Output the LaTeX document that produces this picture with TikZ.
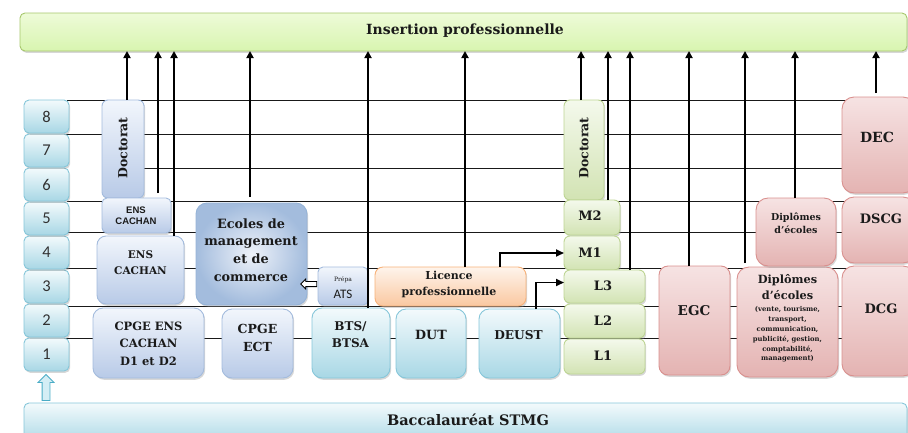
\documentclass[tikz,border=0pt]{standalone}
\usepackage{fontspec}
\setmainfont{DejaVu Serif}
\newfontfamily\calfont{Carlito}
\newfontfamily\arfont{Liberation Sans}
\usetikzlibrary{shadows,shapes.arrows,arrows.meta}
\definecolor{txtc}{HTML}{1A1A1A}
\definecolor{cyT}{HTML}{F3FAFC}\definecolor{cyD}{HTML}{A8D7E5}\definecolor{cyB}{HTML}{86C6D9}
\definecolor{blT}{HTML}{F2F6FC}\definecolor{blD}{HTML}{B8CAE7}\definecolor{blB}{HTML}{A3BBDD}
\definecolor{ecI}{HTML}{EEF2F9}\definecolor{ecO}{HTML}{A3BCDD}\definecolor{ecB}{HTML}{95B3D7}
\definecolor{orT}{HTML}{FEF4EC}\definecolor{orD}{HTML}{FAC8A0}\definecolor{orB}{HTML}{F7B27A}
\definecolor{grT}{HTML}{F4F9EC}\definecolor{grD}{HTML}{D2E3B3}\definecolor{grB}{HTML}{BED594}
\definecolor{pkT}{HTML}{F6E3E3}\definecolor{pkD}{HTML}{E4B3B2}\definecolor{pkB}{HTML}{D9908E}
\definecolor{tbT}{HTML}{EEFBD8}\definecolor{tbD}{HTML}{D8F5B0}\definecolor{tbB}{HTML}{A6C76C}
\definecolor{arF}{HTML}{D4EEF5}\definecolor{arB}{HTML}{4BACC6}
\newcommand\fsz[2]{\fontsize{#1}{#2}\selectfont}
\newcommand\bx[6]{\node[#1,minimum width={#4-#2},minimum height={#5-#3}] (#6) at ({(#2+#4)/2},{(#3+#5)/2}) {};}
\tikzset{
  boxbase/.style={draw,rounded corners=6pt,inner sep=0pt,outer sep=0pt,line width=0.9pt,
    drop shadow={shadow xshift=1.2pt,shadow yshift=-1.8pt,opacity=0.35,fill=black!45}},
  cybox/.style={boxbase,draw=cyB,top color=cyT,bottom color=cyD},
  blbox/.style={boxbase,draw=blB,top color=blT,bottom color=blD},
  ecbox/.style={boxbase,rounded corners=11pt,draw=ecB,inner color=ecI,outer color=ecO},
  orbox/.style={boxbase,draw=orB,top color=orT,bottom color=orD},
  grbox/.style={boxbase,draw=grB,top color=grT,bottom color=grD},
  pkbox/.style={boxbase,rounded corners=9pt,draw=pkB,top color=pkT,bottom color=pkD},
  tbbox/.style={boxbase,rounded corners=5pt,draw=tbB,top color=tbT,bottom color=tbD},
  txt/.style={text=txtc,align=center,inner sep=0pt,font=\bfseries},
  numtxt/.style={text=txtc!90,inner sep=0pt,font=\calfont\fsz{16.5}{18}},
  gridline/.style={line width=1pt,black!90},
  uparr/.style={line width=2pt,-{Triangle[width=7pt,length=7pt]}},
  sidearr/.style={line width=1.8pt,-{Triangle[width=7pt,length=8pt]}}
}
\begin{document}
\begin{tikzpicture}[x=1pt,y=-1pt]
\useasboundingbox (0,0) rectangle (908,432);
\clip (0,0) rectangle (908,432);
% grid lines
\draw[gridline] (67,100) -- (907,100);
\draw[gridline] (55,134) -- (907,134);
\draw[gridline] (144,168) -- (907,168);
\draw[gridline] (67,201) -- (907,201);
\draw[gridline] (67,232) -- (907,232);
\draw[gridline] (63,268) -- (907,268);
\draw[gridline] (67,306) -- (907,306);
\draw[gridline] (63,338) -- (907,338);
% bars
\bx{tbbox}{20}{13}{907}{51}{top}
\node[txt,font=\bfseries\fsz{14}{17}] (toptxt) at (465,31) {Insertion professionnelle};
\bx{cybox,rounded corners=5pt}{24}{403}{907}{445}{bac}
\node[txt,font=\bfseries\fsz{14.5}{17}] (bactxt) at (468,420) {Baccalauréat STMG};
% level boxes
\foreach \n in {1,...,8}{
  \pgfmathsetmacro\ya{100+34*(8-\n)}
  \pgfmathsetmacro\yb{\ya+33}
  \bx{cybox,rounded corners=5pt}{24}{\ya}{69}{\yb}{lv\n}
  \node[numtxt] (lvt\n) at (lv\n.center) {\n};
}
\node[single arrow,draw=arB,fill=arF,line width=0.8pt,inner sep=3.5pt,single arrow head extend=4pt,minimum height=26pt,shape border rotate=90] (bacarr) at (46,389.5) {};
% blue column
\bx{blbox}{102}{100}{144}{198}{docA}
\node[txt,rotate=90,font=\bfseries\fsz{12.5}{15}] (docAt) at (123,148) {Doctorat};
\bx{blbox,rounded corners=5pt}{102}{198}{171}{233}{ensS}
\node[txt,font=\arfont\bfseries\fsz{9.5}{11}] (ensSt) at (136,216) {ENS\\CACHAN};
\bx{blbox,rounded corners=9pt}{97}{236}{184}{304}{ensB}
\node[txt,font=\bfseries\fsz{10.5}{16}] (ensBt) at (140.5,263) {ENS\\CACHAN};
\bx{ecbox}{196}{203}{307}{305}{ecol}
\node[txt,font=\bfseries\fsz{12.8}{17.7}] (ecolt) at (251,250) {Ecoles de\\management\\et de\\commerce};
\bx{blbox,rounded corners=5pt}{318}{267}{368}{305}{ats}
\node[txt,font=\fsz{6}{7}] (atsp) at (343,279.5) {Prépa};
\node[txt,font=\calfont\fsz{13}{15}] (atst) at (343,294) {ATS};
\node[single arrow,draw=black,fill=white,line width=0.8pt,inner sep=2.2pt,single arrow head extend=2.5pt,minimum height=16pt,shape border rotate=180] (atsarr) at (310,284) {};
\bx{orbox,rounded corners=8pt}{375}{267}{526}{306}{lic}
\node[txt,font=\bfseries\fsz{11}{16}] (lict) at (449,284) {Licence\\professionnelle};
\bx{blbox,rounded corners=10pt}{93}{308}{204}{378}{cpA}
\node[txt,font=\bfseries\fsz{11.5}{17.5}] (cpAt) at (148.5,343.5) {CPGE ENS\\CACHAN\\D1 et D2};
\bx{blbox,rounded corners=10pt}{222}{309}{293}{378}{cpB}
\node[txt,font=\bfseries\fsz{12.5}{18}] (cpBt) at (257.5,338) {CPGE\\ECT};
\bx{cybox,rounded corners=10pt}{312}{308}{390}{378}{bts}
\node[txt,font=\bfseries\fsz{12}{17.5}] (btst) at (350.5,334.5) {BTS/\\BTSA};
\bx{cybox,rounded corners=10pt}{396}{309}{466}{378}{dut}
\node[txt,font=\bfseries\fsz{12.7}{15}] (dutt) at (431,335) {DUT};
\bx{cybox,rounded corners=10pt}{479}{309}{560}{378}{deust}
\node[txt,font=\bfseries\fsz{12.2}{15}] (deustt) at (518.5,335) {DEUST};
% green column
\bx{grbox}{564}{100}{604}{200}{docB}
\node[txt,rotate=90,font=\bfseries\fsz{12.5}{15}] (docBt) at (584,148) {Doctorat};
\bx{grbox}{564}{200}{620}{235}{m2}
\node[txt,font=\bfseries\fsz{13}{15}] (m2t) at (590,216) {M2};
\bx{grbox}{564}{236}{620}{270}{m1}
\node[txt,font=\bfseries\fsz{13}{15}] (m1t) at (590,252.5) {M1};
\bx{grbox}{564}{270}{645}{303}{l3}
\node[txt,font=\bfseries\fsz{13}{15}] (l3t) at (603,286) {L3};
\bx{grbox}{564}{304}{645}{338}{l2}
\node[txt,font=\bfseries\fsz{13}{15}] (l2t) at (603,321) {L2};
\bx{grbox}{564}{339}{645}{374}{l1}
\node[txt,font=\bfseries\fsz{13}{15}] (l1t) at (603,356) {L1};
% pink column
\bx{pkbox}{659}{266}{730}{375}{egc}
\node[txt,font=\bfseries\fsz{13.5}{15}] (egct) at (694,311) {EGC};
\bx{pkbox,rounded corners=12pt}{737}{267}{838}{377}{dipB}
\node[txt,font=\bfseries\fsz{11.3}{16}] (dipBt) at (787.5,287) {Diplômes\\d’écoles};
\node[txt,font=\bfseries\fsz{6.8}{9.8}] (dipBs) at (787.5,334.5) {(vente, tourisme,\\transport,\\communication,\\publicité, gestion,\\comptabilité,\\management)};
\bx{pkbox,rounded corners=12pt}{756}{198}{836}{266}{dipS}
\node[txt,font=\bfseries\fsz{9.5}{13.5}] (dipSt) at (796,223.5) {Diplômes\\d’écoles};
\bx{pkbox,rounded corners=12pt}{842}{97}{915}{193}{dec}
\node[txt,font=\bfseries\fsz{14}{16}] (dect) at (877,137) {DEC};
\bx{pkbox,rounded corners=12pt}{842}{197}{915}{263}{dscg}
\node[txt,font=\bfseries\fsz{13}{16}] (dscgt) at (881,219) {DSCG};
\bx{pkbox,rounded corners=12pt}{842}{266}{915}{376}{dcg}
\node[txt,font=\bfseries\fsz{13}{16}] (dcgt) at (881,309) {DCG};
% arrows to the top bar
\draw[uparr] (docA.north -| 127,0) -- (top.south -| 127,0);
\draw[uparr,shorten <=5pt] (ensS.north -| 158,0) -- (top.south -| 158,0);
\draw[uparr] (ensB.north -| 174,0) -- (top.south -| 174,0);
\draw[uparr,shorten <=6pt] (ecol.north -| 250,0) -- (top.south -| 250,0);
\draw[uparr] (bts.north -| 368,0) -- (top.south -| 368,0);
\draw[uparr] (lic.north -| 465,0) -- (top.south -| 465,0);
\draw[uparr] (docB.north -| 581,0) -- (top.south -| 581,0);
\draw[uparr] (m2.north -| 608,0) -- (top.south -| 608,0);
\draw[uparr] (l3.north -| 630,0) -- (top.south -| 630,0);
\draw[uparr] (egc.north -| 689,0) -- (top.south -| 689,0);
\draw[uparr,shorten <=4pt] (dipB.north -| 745,0) -- (top.south -| 745,0);
\draw[uparr] (dipS.north -| 795,0) -- (top.south -| 795,0);
\draw[uparr,shorten <=4pt] (dec.north -| 876,0) -- (top.south -| 876,0);
% arrows into the university column
\draw[sidearr] (lic.north -| 500,0) |- (m1.west);
\draw[sidearr] (deust.north -| 536,0) |- ([yshift=4pt]l3.west);
\end{tikzpicture}
\end{document}
